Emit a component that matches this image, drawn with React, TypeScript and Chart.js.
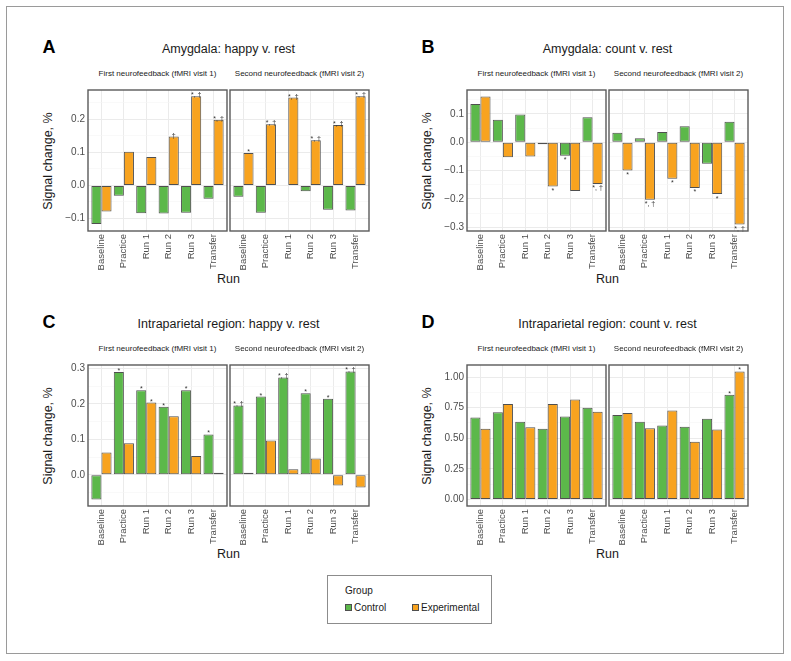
import React, { useEffect, useRef } from "react";
import { Chart, registerables } from "chart.js";
Chart.register(...registerables);

const FONT = "'Liberation Sans', Arial, Helvetica, sans-serif";
Chart.defaults.font.family = FONT;

const GREEN = "#5cb84a";
const ORANGE = "#f8a31f";
const EDGE = "#4f4f4f";
const GRID = "#ebebeb";
const GRID_MINOR = "#f5f5f5";
const TICK = "#4d4d4d";

const runs = ["Baseline", "Practice", "Run 1", "Run 2", "Run 3", "Transfer"];
const groups = ["Control", "Experimental"];
const facetNames = ["First neurofeedback (fMRI visit 1)", "Second neurofeedback (fMRI visit 2)"];

// Panel A: Amygdala happy v. rest
const aV1Ctrl = [-0.117, -0.031, -0.084, -0.085, -0.083, -0.040];
const aV1Exp = [-0.079, 0.102, 0.086, 0.148, 0.270, 0.199];
const aV2Ctrl = [-0.034, -0.083, 0.001, -0.018, -0.074, -0.076];
const aV2Exp = [0.098, 0.185, 0.266, 0.137, 0.183, 0.270];
const aV1CtrlSig = ["", "", "", "", "", ""];
const aV1ExpSig = ["", "", "", "†", "*, †", "*, †"];
const aV2CtrlSig = ["", "", "", "", "", ""];
const aV2ExpSig = ["*", "*, †", "*, †", "*, †", "*, †", "*, †"];
const aMajor = [-0.1, 0, 0.1, 0.2];
const aMinor = [-0.05, 0.05, 0.15, 0.25];

// Panel B: Amygdala count v. rest
const bV1Ctrl = [0.135, 0.079, 0.098, -0.007, -0.048, 0.088];
const bV1Exp = [0.161, -0.053, -0.050, -0.156, -0.172, -0.147];
const bV2Ctrl = [0.033, 0.014, 0.036, 0.056, -0.076, 0.072];
const bV2Exp = [-0.100, -0.203, -0.129, -0.161, -0.183, -0.290];
const bV1CtrlSig = ["", "", "", "", "*", ""];
const bV1ExpSig = ["", "", "", "*", "", "*, †"];
const bV2CtrlSig = ["", "", "", "", "", ""];
const bV2ExpSig = ["*", "*, †", "*", "*", "*", "*, †"];
const bMajor = [-0.3, -0.2, -0.1, 0, 0.1];
const bMinor = [-0.25, -0.15, -0.05, 0.05, 0.15];

// Panel C: Intraparietal happy v. rest
const cV1Ctrl = [-0.070, 0.290, 0.239, 0.192, 0.239, 0.114];
const cV1Exp = [0.063, 0.089, 0.204, 0.165, 0.053, 0.006];
const cV2Ctrl = [0.196, 0.221, 0.275, 0.230, 0.215, 0.292];
const cV2Exp = [0.006, 0.097, 0.016, 0.046, -0.030, -0.036];
const cV1CtrlSig = ["", "*", "*", "*", "*", "*"];
const cV1ExpSig = ["", "", "*", "", "", ""];
const cV2CtrlSig = ["*, †", "*", "*, †", "*", "*", "*, †"];
const cV2ExpSig = ["", "", "", "", "", ""];
const cMajor = [0, 0.1, 0.2, 0.3];
const cMinor = [-0.05, 0.05, 0.15, 0.25];

// Panel D: Intraparietal count v. rest
const dV1Ctrl = [0.669, 0.712, 0.636, 0.579, 0.677, 0.750];
const dV1Exp = [0.579, 0.780, 0.590, 0.780, 0.816, 0.716];
const dV2Ctrl = [0.690, 0.636, 0.604, 0.595, 0.660, 0.856];
const dV2Exp = [0.706, 0.582, 0.726, 0.473, 0.571, 1.046];
const dV1CtrlSig = ["", "", "", "", "", ""];
const dV1ExpSig = ["", "", "", "", "", ""];
const dV2CtrlSig = ["", "", "", "", "", "*"];
const dV2ExpSig = ["", "", "", "", "", "*"];
const dMajor = [0, 0.25, 0.5, 0.75, 1.0];
const dMinor = [0.125, 0.375, 0.625, 0.875];

const panels = [
  { letter: "A", title: "Amygdala: happy v. rest", L: 88, T: 90, yMin: -0.138, yMax: 0.289, majors: aMajor, minors: aMinor, dec: 1,
    facets: [[aV1Ctrl, aV1Exp, aV1CtrlSig, aV1ExpSig], [aV2Ctrl, aV2Exp, aV2CtrlSig, aV2ExpSig]] },
  { letter: "B", title: "Amygdala: count v. rest", L: 467, T: 90, yMin: -0.313, yMax: 0.184, majors: bMajor, minors: bMinor, dec: 1,
    facets: [[bV1Ctrl, bV1Exp, bV1CtrlSig, bV1ExpSig], [bV2Ctrl, bV2Exp, bV2CtrlSig, bV2ExpSig]] },
  { letter: "C", title: "Intraparietal region: happy v. rest", L: 88, T: 365, yMin: -0.088, yMax: 0.310, majors: cMajor, minors: cMinor, dec: 1,
    facets: [[cV1Ctrl, cV1Exp, cV1CtrlSig, cV1ExpSig], [cV2Ctrl, cV2Exp, cV2CtrlSig, cV2ExpSig]] },
  { letter: "D", title: "Intraparietal region: count v. rest", L: 467, T: 365, yMin: -0.052, yMax: 1.098, majors: dMajor, minors: dMinor, dec: 2,
    facets: [[dV1Ctrl, dV1Exp, dV1CtrlSig, dV1ExpSig], [dV2Ctrl, dV2Exp, dV2CtrlSig, dV2ExpSig]] },
];

const PLOT_W = 139;
const PLOT_H = 141;
const FACET_GAP = 142;

function fmt(v: number, dec: number) {
  const s = Math.abs(v).toFixed(dec);
  return v < -1e-9 ? "\u2212" + s : s;
}

type FacetProps = {
  plotL: number; plotT: number; showY: boolean;
  yMin: number; yMax: number; majors: number[]; minors: number[]; dec: number;
  ctrl: number[]; exp: number[]; sigCtrl: string[]; sigExp: string[];
};

function Facet(p: FacetProps) {
  const ref = useRef<HTMLCanvasElement>(null);
  const PAD = 3;
  const YW = p.showY ? 40 : 0;
  const XH = 52;
  const cw = PAD + YW + PLOT_W + PAD;
  const ch = PAD + PLOT_H + XH;

  useEffect(() => {
    const sigs = [p.sigCtrl, p.sigExp];
    const vals = [p.ctrl, p.exp];
    const isMajor = (v: number) => p.majors.some((m) => Math.abs(m - v) < 1e-6);
    const sigPlugin = {
      id: "sig",
      afterDatasetsDraw(chart: any) {
        const ctx = chart.ctx;
        ctx.save();
        ctx.font = `7px ${FONT}`;
        ctx.fillStyle = "#333";
        ctx.textAlign = "center";
        for (let d = 0; d < 2; d++) {
          const meta = chart.getDatasetMeta(d);
          meta.data.forEach((el: any, i: number) => {
            const s = sigs[d][i];
            if (!s) return;
            if (vals[d][i] >= 0) {
              ctx.textBaseline = "alphabetic";
              ctx.fillText(s, el.x, el.y + 1);
            } else {
              ctx.textBaseline = "top";
              ctx.fillText(s, el.x, el.y + 1);
            }
          });
        }
        ctx.restore();
      },
    };
    const framePlugin = {
      id: "frame",
      afterDraw(chart: any) {
        const { left, top, width, height } = chart.chartArea;
        const ctx = chart.ctx;
        ctx.save();
        ctx.strokeStyle = "#5a5a5a";
        ctx.lineWidth = 1.4;
        ctx.strokeRect(left, top, width, height);
        ctx.restore();
      },
    };
    const chart = new Chart(ref.current as HTMLCanvasElement, {
      type: "bar",
      data: {
        datasets: [
          { label: groups[0], data: p.ctrl.map((v, i) => ({ x: i + 1, y: v })), backgroundColor: GREEN, borderColor: EDGE, borderWidth: 1, borderSkipped: false } as any,
          { label: groups[1], data: p.exp.map((v, i) => ({ x: i + 1, y: v })), backgroundColor: ORANGE, borderColor: EDGE, borderWidth: 1, borderSkipped: false } as any,
        ],
      },
      options: {
        animation: false,
        responsive: false,
        maintainAspectRatio: false,
        layout: { padding: { left: PAD, right: PAD, top: PAD, bottom: 0 } },
        plugins: { legend: { display: false }, tooltip: { enabled: false } },
        datasets: { bar: { categoryPercentage: 0.9, barPercentage: 1 } } as any,
        scales: {
          x: {
            type: "linear",
            min: 0.4,
            max: 6.6,
            offset: false,
            afterBuildTicks: (ax: any) => { ax.ticks = runs.map((_, i) => ({ value: i + 1 })); },
            afterFit: (ax: any) => { ax.height = XH; ax.paddingLeft = 0; ax.paddingRight = 0; ax.paddingTop = 0; ax.paddingBottom = 0; },
            ticks: {
              autoSkip: false, maxRotation: 90, minRotation: 90, padding: 3, color: TICK,
              font: { size: 9.5, family: FONT },
              callback: (v: any) => runs[Math.round(Number(v)) - 1] ?? "",
            },
            grid: { color: GRID, lineWidth: 1, drawTicks: false, offset: false },
            border: { display: false },
          } as any,
          y: {
            type: "linear",
            min: p.yMin,
            max: p.yMax,
            afterBuildTicks: (ax: any) => {
              ax.ticks = [...p.majors, ...p.minors].sort((a, b) => a - b).map((v) => ({ value: v }));
            },
            afterFit: (ax: any) => { ax.width = YW; ax.paddingLeft = 0; ax.paddingRight = 0; ax.paddingTop = 0; ax.paddingBottom = 0; },
            ticks: {
              display: p.showY, padding: 3, color: TICK,
              font: { size: 10, family: FONT },
              callback: (v: any) => (isMajor(Number(v)) ? fmt(Number(v), p.dec) : ""),
            },
            grid: {
              color: (c: any) => (isMajor(c.tick.value) ? GRID : GRID_MINOR),
              lineWidth: (c: any) => (isMajor(c.tick.value) ? 1 : 0.6),
              drawTicks: false,
            },
            border: { display: false },
          } as any,
        },
      },
      plugins: [sigPlugin, framePlugin],
    });
    return () => chart.destroy();
  }, []);

  return (
    <canvas
      ref={ref}
      width={cw}
      height={ch}
      style={{ position: "absolute", left: p.plotL - YW - PAD, top: p.plotT - PAD, width: cw, height: ch }}
    />
  );
}

function Text(props: { x: number; y: number; size: number; bold?: boolean; rotate?: boolean; color?: string; children: React.ReactNode }) {
  return (
    <div
      style={{
        position: "absolute", left: props.x, top: props.y,
        transform: `translate(-50%, -50%)${props.rotate ? " rotate(-90deg)" : ""}`,
        fontSize: props.size, fontWeight: props.bold ? 700 : 400, fontFamily: FONT,
        color: props.color ?? "#1a1a1a", whiteSpace: "nowrap", lineHeight: 1,
      }}
    >
      {props.children}
    </div>
  );
}

export default function App() {
  return (
    <div style={{ position: "absolute", left: 0, top: 0, width: 791, height: 661, background: "#fff", overflow: "hidden" }}>
      <div style={{ position: "absolute", left: 6, top: 6, width: 778, height: 648, border: "1.5px solid #9a9a9a", boxSizing: "border-box" }} />
      {panels.map((pn) => (
        <React.Fragment key={pn.letter}>
          <Text x={pn.L - 39} y={pn.T - 43} size={18} bold color="#000">{pn.letter}</Text>
          <Text x={pn.L + 140.5} y={pn.T - 41} size={12.5}>{pn.title}</Text>
          <Text x={pn.L - 40} y={pn.T + 70.5} size={12.5} rotate>Signal change, %</Text>
          <Text x={pn.L + 140.5} y={pn.T + 189} size={12.5}>Run</Text>
          {pn.facets.map((f, k) => (
            <React.Fragment key={k}>
              <Text x={pn.L + k * FACET_GAP + PLOT_W / 2} y={pn.T - 16} size={8} color="#1a1a1a">{facetNames[k]}</Text>
              <Facet
                plotL={pn.L + k * FACET_GAP} plotT={pn.T} showY={k === 0}
                yMin={pn.yMin} yMax={pn.yMax} majors={pn.majors} minors={pn.minors} dec={pn.dec}
                ctrl={f[0] as number[]} exp={f[1] as number[]} sigCtrl={f[2] as string[]} sigExp={f[3] as string[]}
              />
            </React.Fragment>
          ))}
        </React.Fragment>
      ))}
      <div style={{ position: "absolute", left: 327, top: 575, width: 165, height: 49, border: "1px solid #8c8c8c", boxSizing: "border-box" }} />
      <div style={{ position: "absolute", left: 345, top: 586, fontSize: 10, fontFamily: FONT, color: "#1a1a1a", lineHeight: 1 }}>Group</div>
      <div style={{ position: "absolute", left: 345, top: 604, width: 7, height: 7, background: GREEN, border: `1px solid ${EDGE}`, boxSizing: "border-box" }} />
      <div style={{ position: "absolute", left: 354, top: 602.5, fontSize: 10, fontFamily: FONT, color: "#1a1a1a", lineHeight: 1 }}>{groups[0]}</div>
      <div style={{ position: "absolute", left: 411.5, top: 604, width: 7, height: 7, background: ORANGE, border: `1px solid ${EDGE}`, boxSizing: "border-box" }} />
      <div style={{ position: "absolute", left: 421, top: 602.5, fontSize: 10, fontFamily: FONT, color: "#1a1a1a", lineHeight: 1 }}>{groups[1]}</div>
    </div>
  );
}
